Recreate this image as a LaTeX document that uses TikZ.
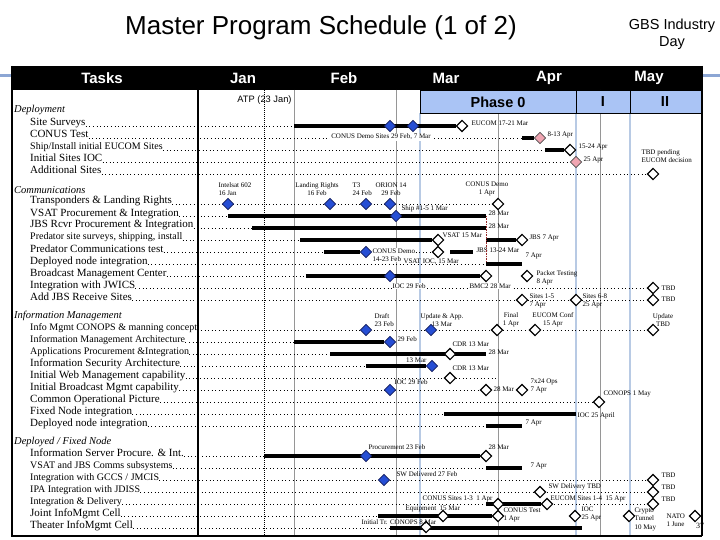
\documentclass[tikz,border=0pt]{standalone}
\usepackage{fontspec}
\setmainfont{Liberation Serif}
\setsansfont{Liberation Sans}
\usetikzlibrary{shapes.geometric}

\definecolor{msblue}{RGB}{38,78,212}
\definecolor{msnavy}{RGB}{20,30,90}
\definecolor{mspink}{RGB}{240,165,178}
\definecolor{phasefill}{RGB}{170,196,245}
\definecolor{phaseblue}{RGB}{184,202,228}
\definecolor{gridgray}{RGB}{150,150,150}
\definecolor{decoblue}{RGB}{140,166,212}
\definecolor{redline}{RGB}{150,40,40}

\tikzset{
  hdr/.style={text=white, font=\sffamily\bfseries\fontsize{15}{15}\selectfont},
  phasetxt/.style={font=\sffamily\bfseries\fontsize{14.5}{15}\selectfont},
  section/.style={anchor=west, inner sep=0pt, font=\fontsize{10.5}{11}\selectfont\itshape},
  task/.style={anchor=base west, inner sep=0pt, font=\fontsize{11}{12}\selectfont},
  smalltask/.style={task, font=\fontsize{10}{11}\selectfont},
  rowline/.style={line width=0.6pt, dash pattern=on 0.6pt off 3pt},
  bar/.style={line width=4.5pt},
  milestone/.style={diamond, draw, inner sep=0pt, minimum size=11.5pt, line width=0.8pt},
  bluems/.style={milestone, fill=msblue, draw=msnavy},
  whitems/.style={milestone, fill=white, line width=1.1pt},
  pinkms/.style={milestone, fill=mspink, draw=black!70},
  note/.style={inner sep=0.3pt, align=left, font=\fontsize{7}{8.5}\selectfont},
  gridline/.style={gridgray, line width=0.8pt},
  phaseline/.style={phaseblue, line width=2.2pt},
}

\begin{document}
\begin{tikzpicture}[x=1pt,y=-1pt]
\useasboundingbox (0,0) rectangle (720,540);

% title
\node[font=\sffamily\fontsize{26}{28}\selectfont] (title) at (321,28) {Master Program Schedule (1 of 2)};
\node[font=\sffamily\fontsize{14.5}{17}\selectfont, align=center] (event) at (672,34) {GBS Industry\\Day};

% header
\draw[decoblue, line width=3pt] (0,76) -- (720,76);
\fill (12,66) rectangle (702,90);
\node[hdr] (hTasks) at (102,78) {Tasks};
\node[hdr] (hJan) at (243,78) {Jan};
\node[hdr] (hFeb) at (344,78) {Feb};
\node[hdr] (hMar) at (446,78) {Mar};
\node[hdr] (hApr) at (549,78) {Apr};
\node[hdr] (hMay) at (649,78) {May};

% grid
\draw[gridline] (294,90) -- (294,536);
\draw[gridline] (396,90) -- (396,536);
\draw[gridline] (498,90) -- (498,536);
\draw[gridline] (600,90) -- (600,536);
\draw[phaseline] (420,113) -- (420,536);
\draw[phaseline] (576,113) -- (576,536);
\draw[phaseline] (630,113) -- (630,536);
\draw[line width=0.8pt, dash pattern=on 0.8pt off 1.2pt] (264,90) -- (264,536);
\node[font=\sffamily\fontsize{9.3}{10}\selectfont] (atp) at (264.5,100) {ATP (23 Jan)};

% phases
\draw[fill=phasefill, line width=0.8pt] (420,90) rectangle (702,113);
\draw[line width=0.8pt] (576,90) -- (576,113) (630,90) -- (630,113);
\node[phasetxt] (ph0) at (498,102) {Phase 0};
\node[phasetxt] (ph1) at (603,102) {I};
\node[phasetxt] (ph2) at (665,102) {II};

% Deployment
\node[section] (secDep) at (14,110) {Deployment};
\node[task] (tSite) at (30,126) {Site Surveys};
\node[task] (tConus) at (30,138) {CONUS Test};
\node[smalltask] (tShip) at (30,150) {Ship/Install initial EUCOM Sites};
\node[task] (tIoc) at (30,162) {Initial Sites IOC};
\node[task] (tMore) at (30,174) {Additional Sites};

\coordinate (siteS) at (294,126);
\draw[rowline] (tSite.base east) -- (siteS);
\node[whitems] (siteEu) at (462,126) {};
\draw[bar] (siteS) -- (siteEu);
\node[bluems] (siteD1) at (390,126) {};
\node[bluems] (siteD2) at (413,126) {};
\node[note, anchor=west] (siteEuL) at (471,123) {EUCOM 17-21 Mar};

\coordinate (conS) at (522,138);
\draw[rowline] (tConus.base east) -- (conS);
\node[note, fill=white, inner sep=1pt] (conDemoL) at (381,137) {CONUS Demo Sites 29 Feb, 7 Mar};
\node[pinkms] (conMs) at (540,138) {};
\draw[bar] (conS) -- (conMs);
\node[note, anchor=west] (conMsL) at (547,135) {8-13 Apr};

\coordinate (shipS) at (545,150);
\draw[rowline] (tShip.base east) -- (shipS);
\node[whitems] (shipMs) at (570,150) {};
\draw[bar] (shipS) -- (shipMs);
\node[note, anchor=west] (shipMsL) at (578,147) {15-24 Apr};

\coordinate (iocE) at (576,162);
\draw[rowline] (tIoc.base east) -- (iocE);
\node[pinkms] (iocMs) at (iocE) {};
\node[note, anchor=west] (iocMsL) at (583,160) {25 Apr};

\coordinate (moreE) at (653,174);
\draw[rowline] (tMore.base east) -- (moreE);
\node[whitems] (moreMs) at (moreE) {};
\node[note, anchor=west] (moreMsL) at (641,156) {TBD pending\\EUCOM decision};

% Communications
\node[section] (secCom) at (14,190) {Communications};
\node[task] (tTrans) at (30,204) {Transponders \& Landing Rights};
\node[task] (tVsat) at (30,216) {VSAT Procurement \& Integration};
\node[task] (tJbs) at (30,228) {JBS Rcvr Procurement \& Integration};
\node[smalltask] (tPsite) at (30,240) {Predator site surveys, shipping, install};
\node[task] (tPcomm) at (30,252) {Predator Communications test};
\node[task] (tDnode) at (30,264) {Deployed node integration};
\node[task] (tBmc) at (30,276) {Broadcast Management Center};
\node[task] (tJwics) at (30,288) {Integration with JWICS};
\node[task] (tAddjbs) at (30,300) {Add JBS Receive Sites};

\coordinate (trE) at (498,204);
\draw[rowline] (tTrans.base east) -- (trE);
\node[bluems] (trI) at (228,204) {};
\node[bluems] (trL) at (330,204) {};
\node[bluems] (trT) at (366,204) {};
\node[bluems] (trO) at (390,204) {};
\node[whitems] (trC) at (trE) {};
\node[note, anchor=west] (trIL) at (218,189) {Intelsat 602\\16 Jan};
\node[note, align=center] (trLL) at (317,189) {Landing Rights\\16 Feb};
\node[note, anchor=west] (trTL) at (352,189) {T3\\24 Feb};
\node[note, align=center] (trOL) at (391,189) {ORION 14\\29 Feb};
\node[note, align=center] (trCL) at (487,189) {CONUS Demo\\1 Apr};

\coordinate (vsS) at (228,216);
\coordinate (vsE) at (486,216);
\draw[rowline] (tVsat.base east) -- (vsS);
\draw[bar] (vsS) -- (vsE);
\node[bluems] (vsShip) at (396,216) {};
\node[note, anchor=west] (vsShipL) at (401,209) {Ship \#1-5 1 Mar};
\node[note, anchor=west] (vsEL) at (488,213) {28 Mar};

\coordinate (jbS) at (252,228);
\coordinate (jbE) at (486,228);
\draw[rowline] (tJbs.base east) -- (jbS);
\draw[bar] (jbS) -- (jbE);
\node[note, anchor=west] (jbEL) at (488,226) {28 Mar};

\coordinate (psS) at (300,240);
\coordinate (psB) at (486,240);
\draw[rowline] (tPsite.base east) -- (psS);
\node[whitems] (psV) at (438,240) {};
\node[whitems] (psJ) at (522,240) {};
\draw[bar] (psS) -- (psV);
\draw[bar] (psB) -- (psJ);
\node[note, anchor=west] (psVL) at (442,235) {VSAT 15 Mar};
\node[note, anchor=west] (psJL) at (529,238) {JBS 7 Apr};

\coordinate (pcS) at (324,252);
\coordinate (pcE) at (438,252);
\draw[rowline] (tPcomm.base east) -- (pcE);
\node[bluems] (pcDemo) at (366,252) {};
\draw[bar] (pcS) -- (pcDemo);
\node[note, fill=white, anchor=west] (pcDemoL) at (372,255) {CONUS Demo\\14-23 Feb};
\node[whitems] (pcV) at (pcE) {};
\coordinate (pcJs) at (450,252);
\coordinate (pcJe) at (473,252);
\draw[bar] (pcJs) -- (pcJe);
\node[note, anchor=west] (pcJL) at (476,250) {JBS 13-24 Mar};
\node[note, anchor=west] (pcVL) at (403,262) {VSAT IOC, 15 Mar};

\coordinate (dnS) at (486,264);
\coordinate (dnE) at (522,264);
\draw[redline, line width=0.6pt, dash pattern=on 0.8pt off 0.8pt] (vsE) -- (dnS);
\draw[rowline] (tDnode.base east) -- (dnS);
\draw[bar] (dnS) -- (dnE);
\node[note, anchor=west] (dnEL) at (525,256) {7 Apr};

\coordinate (bcS) at (306,276);
\draw[rowline] (tBmc.base east) -- (bcS);
\node[whitems] (bcB) at (486,276) {};
\draw[bar] (bcS) -- (bcB);
\node[bluems] (bcI) at (390,276) {};
\node[whitems] (bcP) at (527,276) {};
\node[note, anchor=west] (bcPL) at (536,278) {Packet Testing\\8 Apr};

\coordinate (jwE) at (653,288);
\draw[rowline] (tJwics.base east) -- (jwE);
\node[whitems] (jwT) at (jwE) {};
\node[note, anchor=west] (jwTL) at (661,288) {TBD};
\node[note, fill=white, anchor=west] (bcIL) at (392,286) {IOC 29 Feb};
\node[note, fill=white, anchor=west] (bcBL) at (469,286) {BMC2 28 Mar};

\coordinate (ajE) at (653,300);
\draw[rowline] (tAddjbs.base east) -- (ajE);
\node[whitems] (ajA) at (522,300) {};
\node[whitems] (ajB) at (576,300) {};
\node[whitems] (ajT) at (ajE) {};
\node[note, anchor=west] (ajAL) at (529,301) {Sites 1-5\\7 Apr};
\node[note, anchor=west] (ajBL) at (582,301) {Sites 6-8\\25 Apr};
\node[note, anchor=west] (ajTL) at (661,299) {TBD};

% Information Management
\node[section] (secInfo) at (14,316) {Information Management};
\node[smalltask] (tConops) at (30,330) {Info Mgmt CONOPS \& manning concept};
\node[smalltask] (tArch) at (30,342) {Information Management Architecture};
\node[smalltask] (tApps) at (30,354) {Applications Procurement \&Integration};
\node[task] (tSec) at (30,366) {Information Security Architecture};
\node[task] (tWeb) at (30,378) {Initial Web Management capability};
\node[task] (tIbm) at (30,390) {Initial Broadcast Mgmt capability};
\node[task] (tCop) at (30,402) {Common Operational Picture};
\node[task] (tFixed) at (30,414) {Fixed Node integration};
\node[task] (tDnode2) at (30,426) {Deployed node integration};

\coordinate (cnE) at (653,330);
\draw[rowline] (tConops.base east) -- (cnE);
\node[bluems] (cnD) at (366,330) {};
\node[bluems] (cnU) at (431,330) {};
\node[whitems] (cnF) at (497,330) {};
\node[whitems] (cnC) at (535,330) {};
\node[whitems] (cnT) at (cnE) {};
\node[note, anchor=west] (cnDL) at (374,320) {Draft\\23 Feb};
\node[note, align=center] (cnUL) at (442,320) {Update \& App.\\13 Mar};
\node[note, align=center] (cnFL) at (511,320) {Final\\1 Apr};
\node[note, align=center] (cnCL) at (553,320) {EUCOM Conf\\15 Apr};
\node[note, align=center] (cnTL) at (663,320) {Update\\TBD};

\coordinate (arS) at (294,342);
\draw[rowline] (tArch.base east) -- (arS);
\node[bluems] (arD) at (390,342) {};
\draw[bar] (arS) -- (arD);
\node[note, anchor=west] (arDL) at (397,339) {29 Feb};

\coordinate (apS) at (330,354);
\coordinate (apE) at (486,354);
\draw[rowline] (tApps.base east) -- (apS);
\draw[bar] (apS) -- (apE);
\node[whitems] (apC) at (450,354) {};
\node[note, anchor=west] (apCL) at (452,344) {CDR 13 Mar};
\node[note, anchor=west] (apEL) at (488,352) {28 Mar};

\coordinate (seS) at (366,366);
\draw[rowline] (tSec.base east) -- (seS);
\node[bluems] (seD) at (432,366) {};
\draw[bar] (seS) -- (seD);
\node[note, anchor=east] (seDL) at (427,360) {13 Mar};

\coordinate (weE) at (497,378);
\draw[rowline] (tWeb.base east) -- (weE);
\node[whitems] (weC) at (450,378) {};
\node[note, anchor=west] (weCL) at (452,368) {CDR 13 Mar};

\coordinate (ibE) at (486,390);
\draw[rowline] (tIbm.base east) -- (ibE);
\node[bluems] (ibI) at (390,390) {};
\node[whitems] (ibB) at (ibE) {};
\node[whitems] (ibO) at (522,390) {};
\node[note, anchor=west] (ibIL) at (394,382) {IOC 29 Feb};
\node[note, anchor=west] (ibBL) at (493,389) {28 Mar};
\node[note, anchor=west] (ibOL) at (530,386) {7x24 Ops\\7 Apr};

\coordinate (coE) at (599,402);
\draw[rowline] (tCop.base east) -- (coE);
\node[whitems] (coC) at (coE) {};
\node[note, anchor=west] (coCL) at (603,394) {CONOPS 1 May};

\coordinate (fxS) at (444,414);
\coordinate (fxE) at (576,414);
\draw[rowline] (tFixed.base east) -- (fxS);
\draw[bar] (fxS) -- (fxE);
\node[note, anchor=west] (fxEL) at (577,416) {IOC 25 April};

\coordinate (dn2S) at (486,426);
\coordinate (dn2E) at (522,426);
\draw[rowline] (tDnode2.base east) -- (dn2S);
\draw[bar] (dn2S) -- (dn2E);
\node[note, anchor=west] (dn2EL) at (525,423) {7 Apr};

% Deployed / Fixed Node
\node[section] (secNode) at (14,442) {Deployed / Fixed Node};
\node[task] (tServer) at (30,456) {Information Server Procure. \& Int.};
\node[smalltask] (tComms) at (30,468) {VSAT and JBS Comms subsystems};
\node[smalltask] (tGccs) at (30,480) {Integration with GCCS / JMCIS};
\node[smalltask] (tIpa) at (30,492) {IPA Integration with JDISS};
\node[smalltask] (tDeliv) at (30,504) {Integration \& Delivery};
\node[task] (tJoint) at (30,516) {Joint InfoMgmt Cell};
\node[task] (tTheater) at (30,528) {Theater InfoMgmt Cell};

\coordinate (svS) at (264,456);
\draw[rowline] (tServer.base east) -- (svS);
\node[whitems] (svE) at (486,456) {};
\draw[bar] (svS) -- (svE);
\node[bluems] (svP) at (366,456) {};
\node[note, anchor=west] (svPL) at (368,447) {Procurement 23 Feb};
\node[note, anchor=west] (svEL) at (488,447) {28 Mar};

\coordinate (csS) at (486,468);
\coordinate (csE) at (522,468);
\draw[rowline] (tComms.base east) -- (csS);
\draw[bar] (csS) -- (csE);
\node[note, anchor=west] (csEL) at (530,466) {7 Apr};

\coordinate (gcE) at (653,480);
\draw[rowline] (tGccs.base east) -- (gcE);
\node[bluems] (gcS) at (384,480) {};
\node[whitems] (gcT) at (gcE) {};
\node[note, anchor=west] (gcSL) at (396,474) {SW Delivered 27 Feb};
\node[note, anchor=west] (gcTL) at (661,475) {TBD};

\coordinate (ipE) at (653,492);
\draw[rowline] (tIpa.base east) -- (ipE);
\node[whitems] (ipS) at (540,492) {};
\node[whitems] (ipT) at (ipE) {};
\node[note, anchor=west] (ipSL) at (548,487) {SW Delivery TBD};
\node[note, anchor=west] (ipTL) at (661,487) {TBD};

\coordinate (dlS) at (486,504);
\coordinate (dlE) at (653,504);
\draw[rowline] (tDeliv.base east) -- (dlE);
\node[whitems] (dlEu) at (547,504) {};
\draw[bar] (dlS) -- (dlEu);
\node[whitems] (dlC) at (498,504) {};
\node[whitems] (dlT) at (dlE) {};
\node[note, anchor=east] (dlCL) at (493,499) {CONUS Sites 1-3\ \ 1 Apr};
\node[note, anchor=west] (dlEuL) at (550,499) {EUCOM Sites 1-4\ \ 15 Apr};
\node[note, anchor=west] (dlTL) at (661,499) {TBD};

\coordinate (jiS) at (378,516);
\draw[rowline] (tJoint.base east) -- (jiS);
\node[whitems] (jiC) at (498,516) {};
\draw[bar] (jiS) -- (jiC);
\node[whitems] (jiEq) at (443,516) {};
\node[whitems] (jiI) at (575,516) {};
\node[whitems] (jiCr) at (629,516) {};
\node[whitems] (jiN) at (695,516) {};
\node[note, anchor=west] (jiEqL) at (405,509) {Equipment\ \ 15 Mar};
\node[note, anchor=west] (jiCL) at (503,515) {CONUS Test\\1 Apr};
\node[note, anchor=west] (jiIL) at (581,514) {IOC\\25 Apr};
\node[note, anchor=west] (jiCrL) at (634,519) {Crypto\\Tunnel\\10 May};
\node[note, anchor=west] (jiNL) at (666,520) {NATO\\1 June};

\coordinate (thS) at (390,528);
\coordinate (thE) at (582,528);
\draw[rowline] (tTheater.base east) -- (thS);
\draw[bar] (thS) -- (thE);
\node[whitems] (thC) at (426,527) {};
\node[note, anchor=west] (thCL) at (361,522) {Initial Tr. CONOPS 8 Mar};

% frame
\draw[line width=1.5pt] (12,66) -- (12,536) -- (702,536);
\draw[line width=2.5pt] (702,66) -- (702,536);
\draw[line width=2pt] (198,90) -- (198,536);
\node[font=\fontsize{8}{8}\selectfont] (pageNo) at (700,526) {37};
\end{tikzpicture}
\end{document}
